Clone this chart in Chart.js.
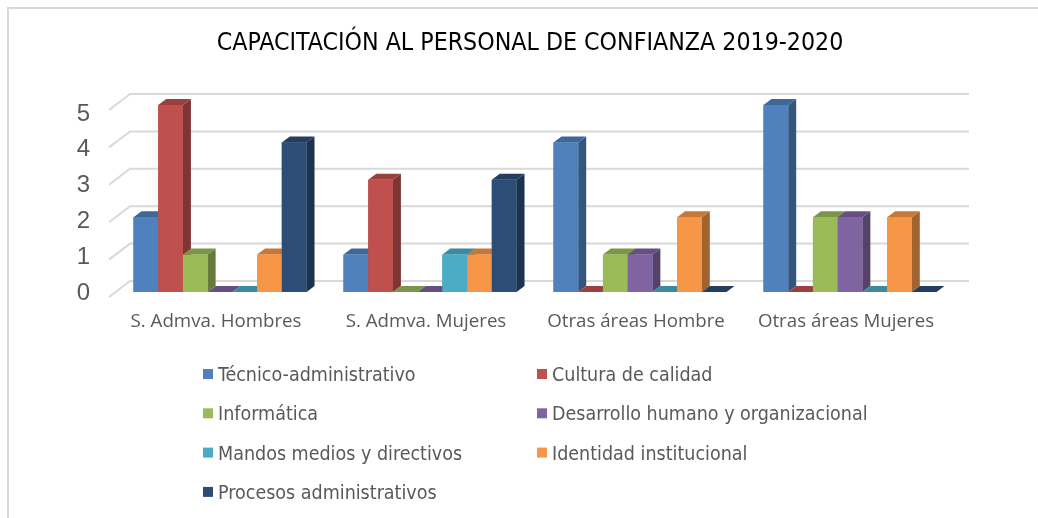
<!DOCTYPE html>
<html>
<head>
<meta charset="utf-8">
<script src="https://cdn.jsdelivr.net/npm/chart.js@4"></script>
<style>
  html, body { margin: 0; padding: 0; background: #fff; }
  #box { width: 1038px; height: 518px; }
</style>
</head>
<body>
<div id="box"><canvas id="trainChart" width="1038" height="518"></canvas></div>
<script>
const chartTitle = 'CAPACITACIÓN AL PERSONAL DE CONFIANZA 2019-2020';
const categories = ['S. Admva. Hombres', 'S. Admva. Mujeres', 'Otras áreas Hombre', 'Otras áreas Mujeres'];
const seriesNames = ['Técnico-administrativo', 'Cultura de calidad', 'Informática', 'Desarrollo humano y organizacional',
  'Mandos medios y directivos', 'Identidad institucional', 'Procesos administrativos'];
const tecnico = [2, 1, 4, 5];
const cultura = [5, 3, 0, 0];
const informatica = [1, 0, 1, 2];
const desarrollo = [0, 0, 1, 2];
const mandos = [0, 1, 0, 0];
const identidad = [1, 1, 2, 2];
const procesos = [4, 3, 0, 0];
const yTicks = [0, 1, 2, 3, 4, 5];

const colors = ['#4f81bd', '#c0504d', '#9bbb59', '#8064a2', '#4bacc6', '#f79646', '#2c4d75'];
const allValues = [tecnico, cultura, informatica, desarrollo, mandos, identidad, procesos];

function shade(hex, f) { // darken a hex colour by factor f
  const n = parseInt(hex.slice(1), 16);
  const r = Math.round(((n >> 16) & 255) * f), g = Math.round(((n >> 8) & 255) * f), b = Math.round((n & 255) * f);
  return 'rgb(' + r + ',' + g + ',' + b + ')';
}

let datasets = [];
for (let i = 0; i < seriesNames.length; i++) {
  datasets.push({
    label: seriesNames[i],
    data: allValues[i],
    backgroundColor: colors[i],
    borderWidth: 0,
    categoryPercentage: 0.824,
    barPercentage: 1.0
  });
}

const DX = 8, DY = -6; // bar depth

const decor = {
  id: 'decor',
  beforeDraw(chart) {
    const ctx = chart.ctx;
    const y = chart.scales.y, x = chart.scales.x;
    const area = chart.chartArea;
    ctx.save();
    // frame
    ctx.strokeStyle = '#d9d9d9';
    ctx.lineWidth = 2;
    ctx.beginPath();
    ctx.moveTo(8, 518); ctx.lineTo(8, 8); ctx.lineTo(1038, 8);
    ctx.stroke();
    // title
    ctx.fillStyle = '#000';
    ctx.font = '24.7px "Liberation Sans Narrow", "DejaVu Sans Condensed", sans-serif';
    ctx.textAlign = 'center';
    ctx.textBaseline = 'middle';
    ctx.fillText(chartTitle, 530, 44);
    // back wall grid + floor diagonals
    ctx.strokeStyle = '#d9d9d9';
    ctx.lineWidth = 2;
    yTicks.forEach(v => {
      const py = y.getPixelForValue(v);
      ctx.beginPath();
      ctx.moveTo(area.left - 6, py + 5);
      ctx.lineTo(area.left + 15, py - 11);
      ctx.lineTo(969, py - 11);
      ctx.stroke();
    });
    // y labels (front edge of the floor, slightly compressed)
    ctx.fillStyle = '#595959';
    ctx.font = '24px "Liberation Sans", Arial, sans-serif';
    ctx.textAlign = 'right';
    const base = y.getPixelForValue(0);
    yTicks.forEach(v => {
      const py = y.getPixelForValue(v);
      ctx.fillText(String(v), 90, base + (py - base) * 0.957 + 1);
    });
    // category labels
    ctx.font = '18.7px "Open Sans", sans-serif';
    ctx.textAlign = 'center';
    categories.forEach((c, i) => {
      ctx.fillText(c, x.getPixelForValue(i) - 4, 322);
    });
    // legend, two columns
    ctx.font = '19.5px "Liberation Sans Narrow", "DejaVu Sans Condensed", sans-serif';
    ctx.textAlign = 'left';
    ctx.textBaseline = 'alphabetic';
    seriesNames.forEach((s, i) => {
      const lx = i % 2 === 0 ? 203 : 537;
      const ly = 374 + Math.floor(i / 2) * 39.3;
      ctx.fillStyle = colors[i];
      ctx.fillRect(lx, ly - 5, 10, 10);
      ctx.fillStyle = '#595959';
      ctx.fillText(s, lx + 15, ly + 7);
    });
    ctx.restore();
  },
  afterDatasetsDraw(chart) {
    const ctx = chart.ctx;
    ctx.save();
    for (let c = 0; c < categories.length; c++) {
      for (let d = 0; d < datasets.length; d++) {
        const bar = chart.getDatasetMeta(d).data[c];
        const p = bar.getProps(['x', 'y', 'base', 'width'], true);
        const x0 = p.x - p.width / 2, x1 = p.x + p.width / 2;
        const top = p.y, base = p.base;
        // side
        ctx.fillStyle = shade(colors[d], 0.66);
        ctx.beginPath();
        ctx.moveTo(x1, top); ctx.lineTo(x1 + DX, top + DY);
        ctx.lineTo(x1 + DX, base + DY); ctx.lineTo(x1, base);
        ctx.closePath(); ctx.fill();
        // top
        ctx.fillStyle = shade(colors[d], 0.8);
        ctx.beginPath();
        ctx.moveTo(x0, top); ctx.lineTo(x1, top);
        ctx.lineTo(x1 + DX, top + DY); ctx.lineTo(x0 + DX, top + DY);
        ctx.closePath(); ctx.fill();
        // front
        ctx.fillStyle = colors[d];
        ctx.fillRect(x0, top, x1 - x0, base - top);
      }
    }
    ctx.restore();
  }
};

new Chart(document.getElementById('trainChart'), {
  type: 'bar',
  data: { labels: categories, datasets: datasets },
  options: {
    responsive: false,
    animation: false,
    events: [],
    layout: { padding: { left: 115, right: 83, top: 105, bottom: 226 } },
    scales: {
      x: { display: false },
      y: { display: false, min: 0, max: 5 }
    },
    plugins: { legend: { display: false }, title: { display: false }, tooltip: { enabled: false } }
  },
  plugins: [decor]
});
</script>
</body>
</html>
